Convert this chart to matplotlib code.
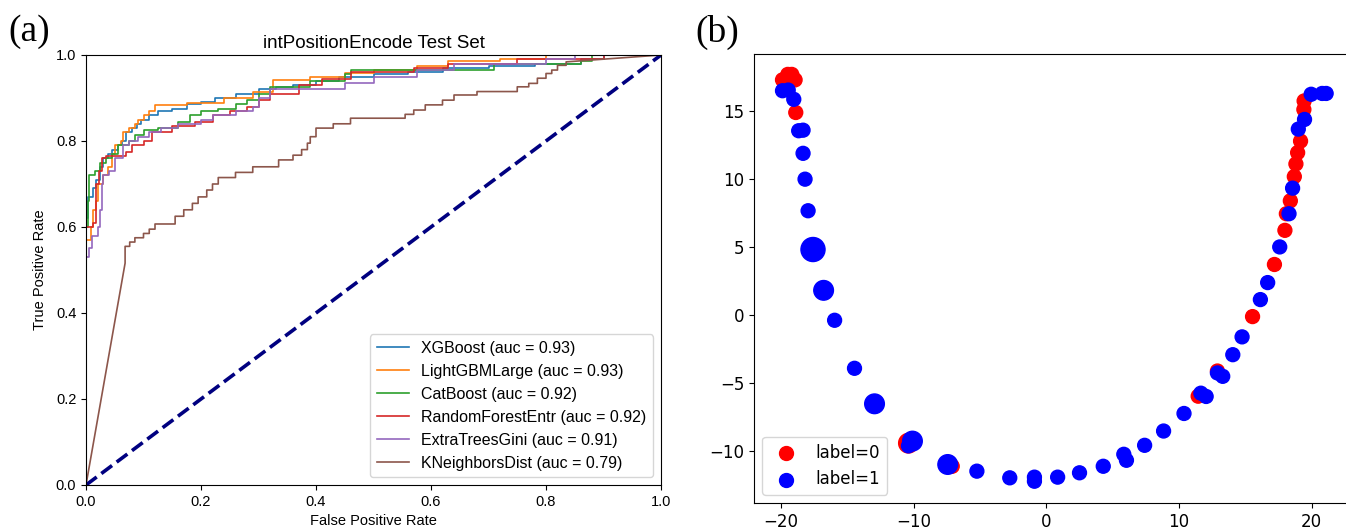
import numpy as np
import matplotlib
matplotlib.use("Agg")
import matplotlib.pyplot as plt

# ---------------- Panel (a): ROC curves (step levels: fpr where level starts, tpr level) ----
models = ["XGBoost", "LightGBMLarge", "CatBoost", "RandomForestEntr", "ExtraTreesGini", "KNeighborsDist"]
aucs = [0.93, 0.93, 0.92, 0.92, 0.91, 0.79]

xgb_fpr = [0, 0.004, 0.012, 0.018, 0.025, 0.03, 0.038, 0.045, 0.055, 0.062, 0.07, 0.08, 0.088, 0.095,
           0.11, 0.125, 0.15, 0.175, 0.2, 0.225, 0.26, 0.3, 0.33, 0.36, 0.4, 0.44, 0.5, 0.56, 0.62,
           0.7, 0.78, 0.86, 0.9]
xgb_tpr = [0.62, 0.67, 0.69, 0.71, 0.74, 0.76, 0.77, 0.78, 0.79, 0.80, 0.82, 0.83, 0.84, 0.85,
           0.86, 0.87, 0.875, 0.885, 0.89, 0.90, 0.91, 0.92, 0.925, 0.93, 0.94, 0.95, 0.955, 0.96, 0.97,
           0.975, 0.98, 0.99, 1.0]

lgb_fpr = [0, 0.008, 0.012, 0.018, 0.02, 0.03, 0.038, 0.045, 0.05, 0.06, 0.065, 0.075, 0.085, 0.09,
           0.1, 0.11, 0.12, 0.175, 0.24, 0.29, 0.325, 0.39, 0.45, 0.5, 0.575, 0.63, 0.72, 0.8]
lgb_tpr = [0.57, 0.60, 0.64, 0.66, 0.70, 0.72, 0.74, 0.77, 0.79, 0.80, 0.82, 0.83, 0.84, 0.85,
           0.86, 0.87, 0.884, 0.888, 0.90, 0.915, 0.942, 0.95, 0.958, 0.965, 0.975, 0.985, 0.99, 1.0]

cat_fpr = [0, 0.003, 0.006, 0.015, 0.025, 0.035, 0.045, 0.055, 0.075, 0.085, 0.1, 0.125, 0.16, 0.18,
           0.2, 0.23, 0.26, 0.28, 0.3, 0.32, 0.39, 0.45, 0.46, 0.71, 0.86, 0.88]
cat_tpr = [0.60, 0.66, 0.72, 0.73, 0.75, 0.76, 0.77, 0.79, 0.80, 0.815, 0.825, 0.83, 0.845, 0.86,
           0.87, 0.875, 0.885, 0.895, 0.91, 0.925, 0.94, 0.955, 0.965, 0.98, 0.985, 1.0]

rf_fpr = [0, 0.012, 0.018, 0.022, 0.028, 0.035, 0.07, 0.08, 0.1, 0.115, 0.15, 0.19, 0.22, 0.25,
          0.28, 0.3, 0.32, 0.37, 0.41, 0.46, 0.57, 0.63, 0.75, 0.9]
rf_tpr = [0.60, 0.61, 0.70, 0.73, 0.76, 0.765, 0.775, 0.79, 0.80, 0.82, 0.835, 0.845, 0.86, 0.87,
          0.88, 0.895, 0.91, 0.93, 0.945, 0.96, 0.97, 0.98, 0.99, 1.0]

et_fpr = [0, 0.005, 0.01, 0.02, 0.025, 0.028, 0.03, 0.04, 0.05, 0.065, 0.075, 0.09, 0.11, 0.13,
          0.16, 0.2, 0.22, 0.26, 0.29, 0.3, 0.32, 0.45, 0.5, 0.575, 0.64, 0.8, 0.85]
et_tpr = [0.53, 0.55, 0.58, 0.60, 0.64, 0.70, 0.72, 0.73, 0.76, 0.79, 0.80, 0.81, 0.82, 0.83,
          0.84, 0.85, 0.86, 0.87, 0.88, 0.90, 0.92, 0.935, 0.95, 0.965, 0.98, 0.99, 1.0]

knn_fpr = [0.068, 0.068, 0.076, 0.085, 0.1, 0.11, 0.12, 0.155, 0.17, 0.185, 0.195, 0.21, 0.22, 0.23,
           0.26, 0.29, 0.335, 0.36, 0.375, 0.385, 0.39, 0.4, 0.43, 0.46, 0.555, 0.57, 0.59, 0.62,
           0.64, 0.68, 0.75, 0.77, 0.785, 0.8, 0.81, 0.82, 0.835]
knn_tpr = [0.516, 0.555, 0.565, 0.575, 0.585, 0.595, 0.607, 0.625, 0.64, 0.655, 0.67, 0.686, 0.70, 0.715,
           0.727, 0.74, 0.756, 0.767, 0.78, 0.795, 0.81, 0.83, 0.84, 0.853, 0.862, 0.872, 0.884, 0.895,
           0.907, 0.915, 0.926, 0.934, 0.946, 0.957, 0.965, 0.976, 0.984]

curves = [(xgb_fpr, xgb_tpr), (lgb_fpr, lgb_tpr), (cat_fpr, cat_tpr),
          (rf_fpr, rf_tpr), (et_fpr, et_tpr), (knn_fpr, knn_tpr)]

# ---------------- Panel (b): 2-D embedding scatter -------------------------------
x0 = [-19.9, -19.5, -19.2, -18.95, -18.9, -16.8, -10.4, -7.1, 11.45, 12.9, 15.55, 17.2, 17.99,
      18.1, 18.4, 18.7, 18.82, 18.95, 19.17, 19.42, 19.44]
y0 = [17.3, 17.7, 17.7, 17.3, 14.9, 1.7, -9.4, -11.1, -5.95, -4.1, -0.1, 3.73, 6.24,
      7.46, 8.41, 10.19, 11.12, 11.95, 12.8, 15.12, 15.75]
n0 = [1, 1, 1, 1, 1, 1, 2, 1, 1, 1, 1, 1, 1,
      1, 1, 1, 1, 1, 1, 1, 1]

x1 = [-19.9, -19.47, -19.05, -18.68, -18.35, -18.35, -18.2, -17.97, -17.6, -16.8, -15.97, -14.47,
      -12.96, -10.1, -10.4, -7.44, -5.24, -2.76, -0.9, -0.9, 0.85, 2.5, 4.29, 5.84, 6.04, 7.41,
      8.84, 10.38, 11.65, 12.05, 12.9, 13.3, 14.06, 14.76, 16.14, 16.69, 17.6, 18.3, 18.57, 19.0,
      19.47, 19.97, 20.8, 21.1]
y1 = [16.5, 16.55, 15.87, 13.56, 13.6, 11.9, 10.0, 7.68, 4.83, 1.83, -0.37, -3.9,
      -6.51, -9.25, -9.6, -10.97, -11.46, -11.95, -11.9, -12.2, -11.9, -11.58, -11.1, -10.22, -10.66, -9.56,
      -8.51, -7.22, -5.73, -5.97, -4.24, -4.49, -2.9, -1.59, 1.15, 2.4, 5.02, 7.46, 9.34, 13.68,
      14.39, 16.24, 16.3, 16.3]
n1 = [1, 1, 1, 1, 1, 1, 1, 1, 3, 2, 1, 1,
      2, 2, 1, 2, 1, 1, 1, 1, 1, 1, 1, 1, 1, 1,
      1, 1, 1, 1, 1, 1, 1, 1, 1, 1, 1, 1, 1, 1,
      1, 1, 1, 1]

W, H = 1346, 529
fig = plt.figure(figsize=(W / 100, H / 100), dpi=100)

sans = ["Liberation Sans", "DejaVu Sans"]
ax1 = fig.add_axes([86 / W, (H - 485) / H, 575 / W, 430 / H])
colors = plt.rcParams["axes.prop_cycle"].by_key()["color"]


def step_vertices(fpr, tpr):
    xs, ys = [0.0], [0.0]
    for i in range(len(fpr)):
        if i > 0:
            xs.append(fpr[i]); ys.append(tpr[i - 1])
        xs.append(fpr[i]); ys.append(tpr[i])
    xs.append(1.0); ys.append(1.0)
    return xs, ys


for (f, t), name, a, c in zip(curves, models, aucs, colors):
    xs, ys = step_vertices(f, t)
    ax1.plot(xs, ys, color=c, lw=1.2, label=f"{name} (auc = {a:.2f})")
ax1.plot([0, 1], [0, 1], color="navy", lw=2.6, linestyle="--")
ax1.set_xlim(0, 1)
ax1.set_ylim(0, 1)
ax1.set_xticks(np.arange(0, 1.01, 0.2))
ax1.set_yticks(np.arange(0, 1.01, 0.2))
for lab in ax1.get_xticklabels() + ax1.get_yticklabels():
    lab.set_fontfamily(sans)
    lab.set_fontsize(10.5)
ax1.set_title("intPositionEncode Test Set", fontsize=13.5, family=sans, pad=5)
ax1.set_xlabel("False Positive Rate", fontsize=10.5, family=sans, labelpad=4)
ax1.set_ylabel("True Positive Rate", fontsize=10.5, family=sans, labelpad=6)
ax1.legend(loc="lower right", prop={"family": sans, "size": 11.5})

# ---------------- Panel (b) ----------------
ax2 = fig.add_axes([754 / W, (H - 503) / H, (1352 - 754) / W, (503 - 54) / H])
base = 100
ax2.scatter(x0, y0, s=[base * n for n in n0], color="red", label="label=0")
ax2.scatter(x1, y1, s=[base * n for n in n1], color="blue", label="label=1")
ax2.set_xlim(-22.05, 23.05)
ax2.set_ylim(-13.8, 19.2)
ax2.set_xticks([-20, -10, 0, 10, 20])
ax2.set_yticks([-10, -5, 0, 5, 10, 15])
ax2.tick_params(labelsize=12)
leg = ax2.legend(loc="lower left", fontsize=12, scatterpoints=1)
for h in leg.legend_handles:
    h.set_sizes([base])

fig.text(8 / W, 1 - 32 / H, "(a)", family="Liberation Serif", fontsize=27, va="center", ha="left")
fig.text(695 / W, 1 - 32 / H, "(b)", family="Liberation Serif", fontsize=27, va="center", ha="left")

fig.savefig("out.png", dpi=100)
